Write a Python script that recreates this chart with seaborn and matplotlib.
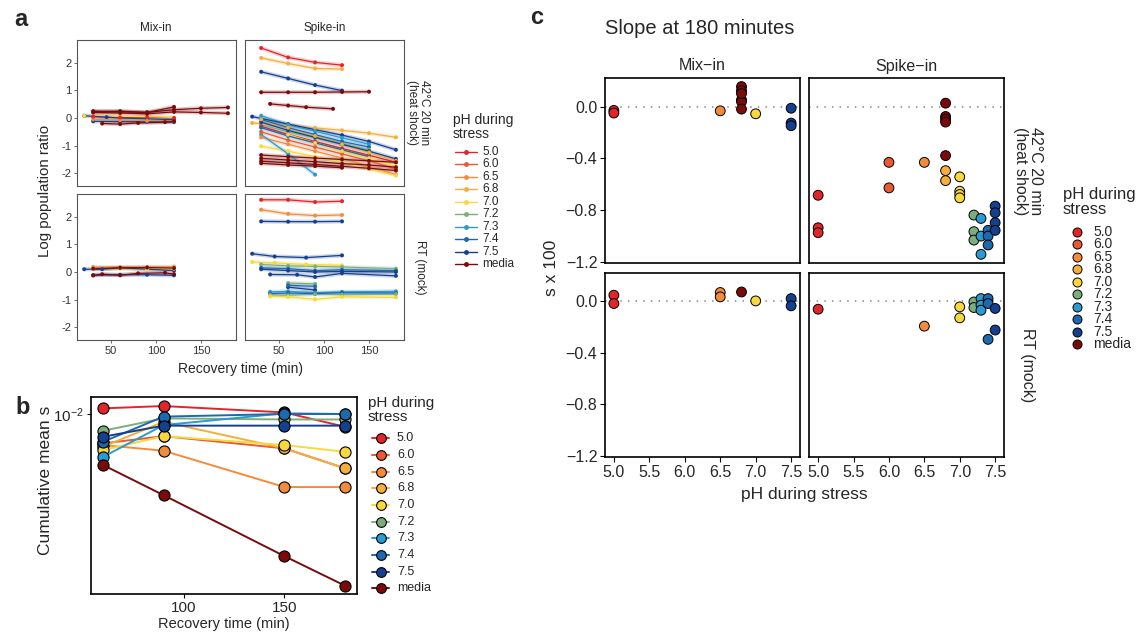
import numpy as np
import pandas as pd
import matplotlib
matplotlib.use("Agg")
import matplotlib.pyplot as plt
from matplotlib.lines import Line2D
from matplotlib.ticker import NullLocator
import seaborn as sns

sns.set_theme(style="white")
plt.rcParams["font.family"] = ["Liberation Sans", "DejaVu Sans"]
plt.rcParams["mathtext.default"] = "regular"

# ---------------- shared categories ----------------
PH_LEVELS = ["5.0", "6.0", "6.5", "6.8", "7.0", "7.2", "7.3", "7.4", "7.5", "media"]
PH_COLORS = ["#E0262B", "#E95A33", "#F28C3C", "#F5AE3C", "#F7D93D",
             "#7EAD7C", "#2A9BD2", "#1D69AD", "#15408F", "#7B0A0A"]
ASSAYS = ["Mix-in", "Spike-in"]
CONDS = ["hs", "rt"]
COND_LABELS = ["42°C 20 min\n(heat shock)", "RT (mock)"]

# ---------------- panel a : log population ratio lines ----------------
a_assay = (["Mix-in"] * 9 + ["Spike-in"] * 23 + ["Mix-in"] * 6 + ["Spike-in"] * 16)
a_cond = (["hs"] * 32 + ["rt"] * 22)
a_ph = [
    # Mix-in, heat shock
    "7.5", "7.5", "7.0", "6.5", "5.0", "media", "media", "media", "media",
    # Spike-in, heat shock
    "5.0", "6.8", "7.5", "media", "media", "7.5", "6.8", "7.3", "7.4", "7.2",
    "7.3", "5.0", "6.0", "6.5", "7.0", "7.5", "7.4", "7.0", "6.8",
    "media", "media", "media", "media",
    # Mix-in, RT
    "7.5", "6.5", "7.0", "7.5", "media", "media",
    # Spike-in, RT
    "5.0", "6.5", "7.5", "7.5", "7.0", "7.2", "7.4", "7.5", "7.5",
    "7.2", "7.5", "7.4", "7.3", "7.4", "7.2", "7.0",
]
a_times = [
    [20, 45, 60, 90, 120], [30, 60, 90, 120], [20, 60, 90, 120], [30, 60, 90, 120],
    [30, 60, 90, 120], [30, 60, 90, 120, 150, 180], [30, 60, 90, 120, 150, 180],
    [30, 60, 90, 120], [40, 60, 80, 110, 120],
    [30, 60, 90, 120], [30, 60, 90, 120], [30, 60, 90, 120], [30, 60, 90, 120, 150],
    [40, 60, 80, 110], [20, 60, 90, 120, 150, 180], [20, 60, 90, 120, 150, 180],
    [30, 60, 90, 120, 150], [30, 60, 90, 120, 150], [30, 60, 90, 120, 150],
    [30, 60, 90], [30, 60, 90, 120, 150, 180], [30, 60, 90, 120, 150, 180],
    [30, 60, 90, 120, 150, 180], [30, 60, 90, 120, 150, 180],
    [30, 60, 90, 120, 150, 180], [30, 60, 90, 120, 150], [60, 90, 120, 150, 180],
    [30, 60, 90, 120, 150, 180],
    [30, 60, 90, 120, 150, 180], [30, 60, 90, 120, 150, 180],
    [30, 60, 90, 120, 150, 180], [30, 60, 90, 120],
    [20, 40, 60, 120], [30, 60, 90, 120], [30, 60, 90, 120], [30, 60, 90, 120],
    [30, 40, 60, 80, 110, 120], [30, 60, 90, 120],
    [30, 60, 90, 120], [30, 60, 90, 120], [30, 60, 90, 120], [20, 45, 80, 120],
    [20, 45, 80, 120], [30, 60, 90, 120, 180], [30, 60, 90, 120, 180],
    [30, 60, 90, 120, 180], [40, 70, 90, 120, 180], [60, 90], [60, 90], [60, 90],
    [40, 60, 90, 120, 180], [40, 60, 90, 120, 180], [40, 60, 90, 120, 180],
    [40, 60, 90, 120, 180],
]
a_values = [
    [0.08, 0.03, 0.00, -0.03, -0.06], [-0.12, -0.13, -0.14, -0.15],
    [0.08, 0.06, 0.05, 0.02], [-0.05, -0.08, -0.10, -0.12], [0.05, 0.02, 0.03, 0.00],
    [0.25, 0.22, 0.20, 0.30, 0.35, 0.38], [0.20, 0.18, 0.15, 0.22, 0.20, 0.17],
    [0.22, 0.25, 0.20, 0.40], [-0.20, -0.22, -0.18, -0.15, -0.12],
    [2.53, 2.19, 2.01, 1.91], [2.17, 1.97, 1.79, 1.77], [1.67, 1.43, 1.19, 0.99],
    [0.93, 0.93, 0.93, 0.94, 0.95], [0.51, 0.45, 0.39, 0.33],
    [0.05, -0.22, -0.42, -0.62, -0.85, -1.15], [-0.18, -0.28, -0.36, -0.45, -0.55, -0.70],
    [0.08, -0.25, -0.48, -0.72, -0.95], [-0.05, -0.35, -0.60, -0.85, -1.05],
    [-0.25, -0.50, -0.72, -0.95, -1.15], [-0.60, -1.30, -2.05],
    [-0.30, -0.60, -0.85, -1.10, -1.35, -1.60], [-0.50, -0.80, -1.05, -1.30, -1.55, -1.85],
    [-0.70, -0.95, -1.20, -1.45, -1.75, -2.05], [-1.02, -1.20, -1.40, -1.60, -1.85, -2.08],
    [-0.15, -0.45, -0.70, -0.95, -1.20, -1.48], [-0.35, -0.65, -0.90, -1.15, -1.40],
    [-0.60, -0.90, -1.20, -1.45, -1.75], [-0.05, -0.35, -0.65, -0.95, -1.25, -1.55],
    [-1.34, -1.40, -1.45, -1.50, -1.55, -1.60], [-1.46, -1.52, -1.58, -1.65, -1.70, -1.78],
    [-1.56, -1.62, -1.68, -1.75, -1.82, -1.90], [-1.64, -1.70, -1.74, -1.80],
    [0.10, 0.10, 0.15, 0.05], [0.18, 0.17, 0.18, 0.19], [0.12, 0.12, 0.10, 0.12],
    [-0.12, -0.10, -0.10, -0.12], [-0.12, -0.08, -0.12, -0.05, -0.03, -0.08],
    [0.12, 0.15, 0.16, 0.14],
    [2.61, 2.61, 2.53, 2.56], [2.25, 2.10, 2.04, 2.06], [1.83, 1.82, 1.82, 1.83],
    [0.66, 0.56, 0.52, 0.60], [0.36, 0.33, 0.27, 0.24], [0.27, 0.22, 0.20, 0.18, 0.12],
    [0.15, 0.12, 0.05, 0.08, 0.05], [0.10, 0.05, 0.00, 0.02, 0.00],
    [-0.09, -0.10, -0.18, -0.05, -0.14], [-0.40, -0.43], [-0.55, -0.65], [-0.48, -0.52],
    [-0.72, -0.70, -0.75, -0.72, -0.70], [-0.78, -0.76, -0.78, -0.75, -0.76],
    [-0.82, -0.84, -0.80, -0.82, -0.80], [-0.88, -0.90, -0.99, -0.90, -0.92],
]
A_YTICKS = [-2, -1, 0, 1, 2]
A_YTICKLABELS = ["-2", "-1", "0", "1", "2"]
A_XTICKS = [50, 100, 150]

# ---------------- panel b : cumulative mean s ----------------
b_times = [60, 90, 150, 180]
b_values = [
    [0.01035, 0.01049, 0.01011, 0.00931],  # 5.0
    [0.00846, 0.00882, 0.00822, 0.00733],  # 6.0
    [0.00838, 0.00811, 0.00658, 0.00658],  # 6.5
    [0.00830, 0.00958, 0.00822, 0.00733],  # 6.8
    [0.00814, 0.00882, 0.00838, 0.00806],  # 7.0
    [0.00910, 0.00977, 0.00971, 0.00971],  # 7.2
    [0.00783, 0.00940, 0.01006, 0.01002],  # 7.3
    [0.00854, 0.00987, 0.01002, 0.01002],  # 7.4
    [0.00879, 0.00937, 0.00937, 0.00937],  # 7.5
    [0.00747, 0.00628, 0.00442, 0.00373],  # media
]

# ---------------- panel c : slope at 180 minutes ----------------
c_assay = ["Mix-in"] * 13 + ["Spike-in"] * 30 + ["Mix-in"] * 8 + ["Spike-in"] * 14
c_cond = ["hs"] * 43 + ["rt"] * 22
c_group = (["5.0", "5.0", "6.5", "media", "media", "media", "media", "media", "7.0",
            "7.5", "7.5", "7.5"] + ["media"] +
           ["5.0", "5.0", "5.0", "6.0", "6.0", "6.5", "media", "media", "media", "media",
            "media", "6.8", "6.8", "7.0", "7.0", "7.0", "7.0", "7.2", "7.2", "7.2",
            "7.3", "7.3", "7.3", "7.4", "7.4", "7.4", "7.5", "7.5", "7.5", "7.5"] +
           ["5.0", "5.0", "6.5", "6.5", "media", "7.0", "7.5", "7.5"] +
           ["5.0", "6.5", "7.0", "7.0", "7.2", "7.2", "7.3", "7.3", "7.3", "7.4", "7.4",
            "7.4", "7.5", "7.5"])
c_x = ([5.0, 5.0, 6.5, 6.8, 6.8, 6.8, 6.8, 6.8, 7.0, 7.5, 7.5, 7.5] + [6.8] +
       [5.0, 5.0, 5.0, 6.0, 6.0, 6.5, 6.8, 6.8, 6.8, 6.8, 6.8, 6.8, 6.8, 7.0, 7.0, 7.0,
        7.0, 7.2, 7.2, 7.2, 7.3, 7.3, 7.3, 7.4, 7.4, 7.4, 7.5, 7.5, 7.5, 7.5] +
       [5.0, 5.0, 6.5, 6.5, 6.8, 7.0, 7.5, 7.5] +
       [5.0, 6.5, 7.0, 7.0, 7.2, 7.2, 7.3, 7.3, 7.3, 7.4, 7.4, 7.4, 7.5, 7.5])
c_s = ([-0.03, -0.05, -0.033, 0.154, 0.123, 0.051, 0.038, -0.02, -0.056, -0.013, -0.128,
        -0.148] + [0.10] +
       [-0.685, -0.936, -0.974, -0.431, -0.628, -0.431, 0.026, -0.077, -0.097, -0.12,
        -0.379, -0.495, -0.572, -0.543, -0.654, -0.679, -0.705, -0.838, -0.966, -1.031,
        -0.864, -1.0, -1.141, -0.956, -1.0, -1.069, -0.769, -0.82, -0.897, -0.956] +
       [0.044, -0.02, 0.065, 0.031, 0.069, 0.0, 0.018, -0.038] +
       [-0.064, -0.195, -0.046, -0.131, -0.008, -0.051, 0.018, -0.033, -0.072, 0.018,
        -0.02, -0.297, -0.058, -0.225])
C_XTICKS = [5.0, 5.5, 6.0, 6.5, 7.0, 7.5]
C_XTICKLABELS = ["5.0", "5.5", "6.0", "6.5", "7.0", "7.5"]
C_YTICKS = [0.0, -0.4, -0.8, -1.2]
C_YTICKLABELS = ["0.0", "\u22120.4", "\u22120.8", "\u22121.2"]

palette = dict(zip(PH_LEVELS, PH_COLORS))

# ---------------- figure ----------------
W, H = 1142, 636
fig = plt.figure(figsize=(W / 100, H / 100), dpi=100)


def rect(l, t, r, b):
    return [l / W, 1 - b / H, (r - l) / W, (b - t) / H]


def fx(x):
    return x / W


def fy(y):
    return 1 - y / H


def draw_legend(x_title, y_title, x_handle, x_label, y0, dy, title_fs, label_fs,
                kind, hl=20, ms=5):
    fig.text(fx(x_title), fy(y_title), "pH during\nstress", fontsize=title_fs,
             ha="left", va="center", linespacing=1.05)
    for i, (lab, col) in enumerate(zip(PH_LEVELS, PH_COLORS)):
        yy = fy(y0 + i * dy)
        if kind == "line":
            fig.add_artist(Line2D([fx(x_handle), fx(x_handle + hl)], [yy, yy],
                                  color=col, lw=1.0, transform=fig.transFigure))
            fig.add_artist(Line2D([fx(x_handle + hl / 2)], [yy], marker="o", ms=ms,
                                  color=col, mec=col, transform=fig.transFigure))
        elif kind == "linepoint":
            fig.add_artist(Line2D([fx(x_handle), fx(x_handle + hl)], [yy, yy],
                                  color=col, lw=1.4, transform=fig.transFigure))
            fig.add_artist(Line2D([fx(x_handle + hl / 2)], [yy], marker="o", ms=ms,
                                  mfc=col, mec="black", mew=0.8,
                                  transform=fig.transFigure))
        else:
            fig.add_artist(Line2D([fx(x_handle)], [yy], marker="o", ms=ms, ls="",
                                  mfc=col, mec="black", mew=0.7,
                                  transform=fig.transFigure))
        fig.text(fx(x_label), yy, lab, fontsize=label_fs, ha="left", va="center")


# ===== panel a =====
rows = []
for i, (asy, cnd, ph, ts, vs) in enumerate(zip(a_assay, a_cond, a_ph, a_times, a_values)):
    for t, v in zip(ts, vs):
        rows.append(dict(line=i, assay=asy, cond=cnd, ph=ph, t=t, v=v))
dfa = pd.DataFrame(rows)

a_rects = {("Mix-in", "hs"): rect(77, 40, 236, 186), ("Spike-in", "hs"): rect(245, 40, 404, 186),
           ("Mix-in", "rt"): rect(77, 194, 236, 340), ("Spike-in", "rt"): rect(245, 194, 404, 340)}
for (asy, cnd), r in a_rects.items():
    ax = fig.add_axes(r)
    sub = dfa[(dfa.assay == asy) & (dfa.cond == cnd)]
    present = [p for p in PH_LEVELS if p in set(sub.ph)]
    sns.lineplot(data=sub, x="t", y="v", hue="ph", hue_order=present, palette=palette,
                 units="line", estimator=None, lw=3.0, alpha=0.22, legend=False, ax=ax)
    sns.lineplot(data=sub, x="t", y="v", hue="ph", hue_order=present, palette=palette,
                 units="line", estimator=None, lw=0.9, legend=False, ax=ax)
    sns.scatterplot(data=sub, x="t", y="v", hue="ph", hue_order=present, palette=palette,
                    s=8, linewidth=0, legend=False, ax=ax, zorder=4)
    ax.set_xlim(12, 189)
    ax.set_ylim(-2.46, 2.82)
    ax.set_xlabel("")
    ax.set_ylabel("")
    for sp in ax.spines.values():
        sp.set_color("#555555")
        sp.set_linewidth(0.8)
    ax.tick_params(length=2.5, width=0.6, color="#555555", labelsize=8, pad=1.5,
                   labelcolor="#333333")
    if asy == "Mix-in":
        ax.set_yticks(A_YTICKS)
        ax.set_yticklabels(A_YTICKLABELS)
        ax.tick_params(axis="y", left=True)
    else:
        ax.set_yticks([])
    if cnd == "rt":
        ax.set_xticks(A_XTICKS)
        ax.tick_params(axis="x", bottom=True)
    else:
        ax.set_xticks([])

fig.text(fx(156), fy(28), "Mix-in", fontsize=8.5, ha="center", va="center")
fig.text(fx(324.5), fy(28), "Spike-in", fontsize=8.5, ha="center", va="center")
fig.text(fx(418), fy(113), COND_LABELS[0], fontsize=8.5, rotation=270, ha="center",
         va="center", linespacing=1.0)
fig.text(fx(420), fy(267), COND_LABELS[1], fontsize=8.5, rotation=270, ha="center",
         va="center")
fig.text(fx(45), fy(191), "Log population ratio", fontsize=10.8, rotation=90,
         ha="center", va="center")
fig.text(fx(240.5), fy(369), "Recovery time (min)", fontsize=10, ha="center", va="center")
fig.text(fx(14), fy(19), "a", fontsize=17, fontweight="bold", ha="left", va="center")
draw_legend(453, 127, 455, 482, 151.7, 12.5, 10, 8.5, "line", hl=22, ms=2.5)

# ===== panel b =====
dfb = pd.DataFrame([dict(ph=p, t=t, s=s) for p, vals in zip(PH_LEVELS, b_values)
                    for t, s in zip(b_times, vals)])
axb = fig.add_axes(rect(91, 397, 357, 594))
sns.lineplot(data=dfb, x="t", y="s", hue="ph", hue_order=PH_LEVELS, palette=palette,
             marker="o", markersize=8, markeredgecolor="black", markeredgewidth=0.8,
             lw=1.4, legend=False, ax=axb)
axb.set_yscale("log")
axb.set_ylim(0.003555, 0.01105)
axb.set_xlim(54, 186)
axb.set_yticks([0.01])
axb.set_yticklabels(["$10^{-2}$"])
axb.yaxis.set_minor_locator(NullLocator())
axb.set_xticks([100, 150])
axb.set_xlabel("")
axb.set_ylabel("")
for sp in axb.spines.values():
    sp.set_color("black")
    sp.set_linewidth(1.2)
axb.tick_params(length=3, width=0.8, color="black", labelsize=11, pad=2,
                left=True, bottom=True)
fig.text(fx(224), fy(624), "Recovery time (min)", fontsize=10.5, ha="center", va="center")
fig.text(fx(46), fy(480), "Cumulative mean s", fontsize=12.5, rotation=90,
         ha="center", va="center")
fig.text(fx(15), fy(408), "b", fontsize=17, fontweight="bold", ha="left", va="center")
draw_legend(368, 410, 372, 397, 438.3, 16.67, 11, 9, "linepoint", hl=17, ms=7)

# ===== panel c =====
dfc = pd.DataFrame(dict(assay=c_assay, cond=c_cond, group=c_group, x=c_x, s=c_s))
c_rects = {("Mix-in", "hs"): rect(605, 78.3, 800, 263),
           ("Spike-in", "hs"): rect(809.3, 78.3, 1004, 263),
           ("Mix-in", "rt"): rect(605, 272.7, 800, 457.3),
           ("Spike-in", "rt"): rect(809.3, 272.7, 1004, 457.3)}
for (asy, cnd), r in c_rects.items():
    ax = fig.add_axes(r)
    sub = dfc[(dfc.assay == asy) & (dfc.cond == cnd)]
    ax.axhline(0, color="#888888", ls=(0, (1, 4)), lw=1.1, zorder=1)
    sns.scatterplot(data=sub, x="x", y="s", hue="group", hue_order=PH_LEVELS,
                    palette=palette, s=50, edgecolor="black", linewidth=0.7,
                    legend=False, ax=ax, zorder=3)
    ax.set_xlim(4.875, 7.625)
    ax.set_ylim(-1.208, 0.218)
    ax.set_xlabel("")
    ax.set_ylabel("")
    for sp in ax.spines.values():
        sp.set_color("black")
        sp.set_linewidth(1.2)
    ax.tick_params(length=3.5, width=0.8, color="black", labelsize=11.5, pad=2)
    if asy == "Mix-in":
        ax.set_yticks(C_YTICKS)
        ax.set_yticklabels(C_YTICKLABELS)
        ax.tick_params(axis="y", left=True)
    else:
        ax.set_yticks([])
    if cnd == "rt":
        ax.set_xticks(C_XTICKS)
        ax.set_xticklabels(C_XTICKLABELS)
        ax.tick_params(axis="x", bottom=True)
    else:
        ax.set_xticks([])

fig.text(fx(605), fy(28), "Slope at 180 minutes", fontsize=14.5, ha="left", va="center")
fig.text(fx(702), fy(66), "Mix\u2212in", fontsize=11.5, ha="center", va="center")
fig.text(fx(906.5), fy(66), "Spike\u2212in", fontsize=11.5, ha="center", va="center")
fig.text(fx(1028), fy(171), COND_LABELS[0], fontsize=11.5, rotation=270, ha="center",
         va="center", linespacing=1.0)
fig.text(fx(1028), fy(365), COND_LABELS[1], fontsize=11.5, rotation=270, ha="center",
         va="center")
fig.text(fx(551), fy(268), "s x 100", fontsize=12.5, rotation=90, ha="center", va="center")
fig.text(fx(804.5), fy(494), "pH during stress", fontsize=12.5, ha="center", va="center")
fig.text(fx(530), fy(18), "c", fontsize=17, fontweight="bold", ha="left", va="center")
draw_legend(1063, 202, 1076.7, 1093, 231.7, 12.5, 12, 10, "point", ms=6.5)

fig.savefig("out.png", dpi=100)
